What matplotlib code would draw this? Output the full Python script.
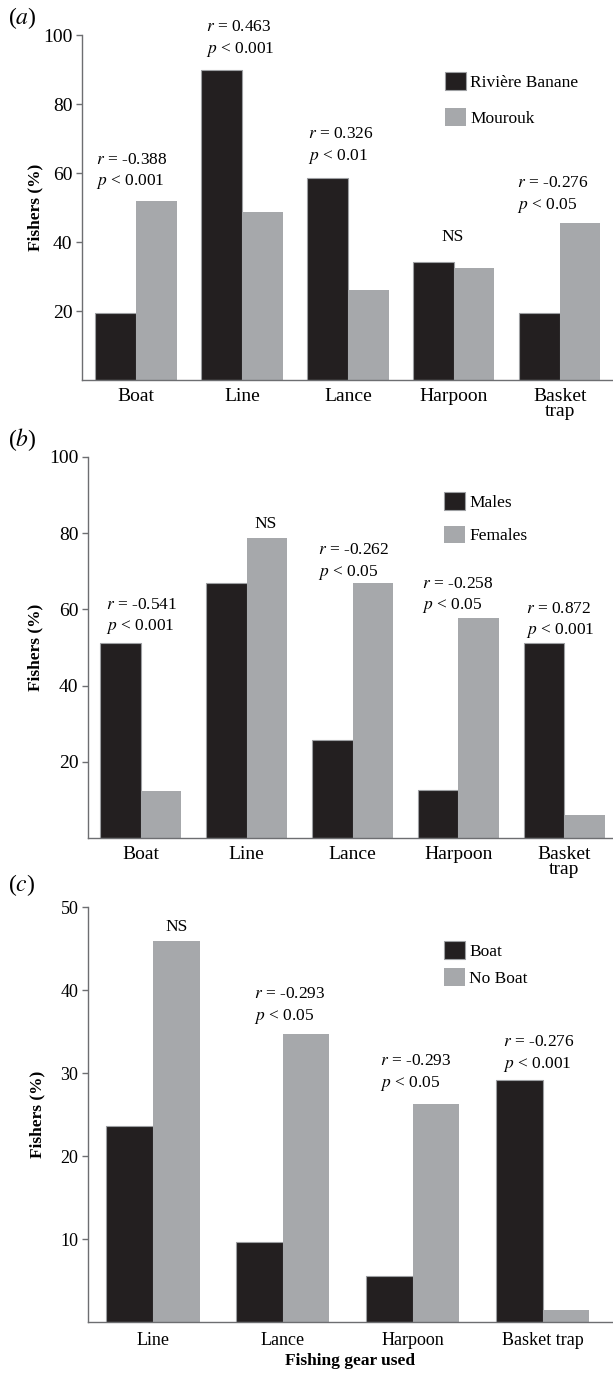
import numpy as np
import matplotlib.pyplot as plt
from matplotlib.patches import Patch

plt.rcParams['font.family'] = 'Liberation Serif'
plt.rcParams['mathtext.fontset'] = 'stix'

# (a) site
gear_a = ['Boat', 'Line', 'Lance', 'Harpoon', 'Basket\ntrap']
riviere = [19.5, 90.0, 58.5, 34.3, 19.5]
mourouk = [51.8, 48.7, 26.0, 32.4, 45.4]
stats_a = ['$r$ = -0.388\n$p$ < 0.001', '$r$ = 0.463\n$p$ < 0.001',
           '$r$ = 0.326\n$p$ < 0.01', 'NS', '$r$ = -0.276\n$p$ < 0.05']

# (b) gender
gear_b = ['Boat', 'Line', 'Lance', 'Harpoon', 'Basket\ntrap']
males = [51.2, 66.8, 25.6, 12.7, 51.2]
females = [12.2, 78.8, 66.8, 57.6, 5.9]
stats_b = ['$r$ = -0.541\n$p$ < 0.001', 'NS', '$r$ = -0.262\n$p$ < 0.05',
           '$r$ = -0.258\n$p$ < 0.05', '$r$ = 0.872\n$p$ < 0.001']

# (c) boat ownership
gear_c = ['Line', 'Lance', 'Harpoon', 'Basket trap']
boat = [23.6, 9.7, 5.5, 29.2]
no_boat = [45.9, 34.7, 26.3, 1.4]
stats_c = ['NS', '$r$ = -0.293\n$p$ < 0.05', '$r$ = -0.293\n$p$ < 0.05',
           '$r$ = -0.276\n$p$ < 0.001']

DARK = '#231f20'
GREY = '#a6a8ab'
EDGE = '#9d9fa2'
AXC = '#6d6e71'

fig = plt.figure(figsize=(6.13, 13.73), dpi=100)


def panel(rect, cats, s1, s2, names, notes, note_xy, ticks, ymax, w,
          xlim, leg_anchor, leg_sp, ylab_x, tick_fs, pad):
    ax = fig.add_axes(rect)
    x = np.arange(len(cats))
    ax.bar(x - w / 2, s1, w, color=DARK, edgecolor=EDGE, linewidth=0.8)
    ax.bar(x + w / 2, s2, w, color=GREY, linewidth=0)
    ax.set_xlim(*xlim)
    ax.set_ylim(0, ymax)
    ax.set_yticks(ticks)
    ax.set_xticks(x)
    ax.set_xticklabels(cats, linespacing=0.8)
    ax.tick_params(axis='x', length=0, pad=pad, labelsize=tick_fs)
    ax.tick_params(axis='y', length=4, width=1, color=AXC, pad=3, labelsize=tick_fs)
    for s in ['top', 'right']:
        ax.spines[s].set_visible(False)
    for s in ['left', 'bottom']:
        ax.spines[s].set_color(AXC)
        ax.spines[s].set_linewidth(1)
    ax.set_ylabel('Fishers (%)', fontsize=12.5, fontweight='bold')
    ax.yaxis.set_label_coords(ylab_x, 0.5)
    for txt, (tx, ty) in zip(notes, note_xy):
        ha = 'center' if txt == 'NS' else 'left'
        ax.text(tx, ty, txt, ha=ha, va='center', fontsize=12.5,
                linespacing=1.35, clip_on=False)
    handles = [Patch(facecolor=DARK, edgecolor=EDGE, linewidth=0.8),
               Patch(facecolor=GREY)]
    ax.legend(handles, names, loc='upper left', bbox_to_anchor=leg_anchor,
              frameon=False, borderpad=0, borderaxespad=0, handlelength=1.2,
              handleheight=1.2, handletextpad=0.25, labelspacing=leg_sp,
              fontsize=12.5)
    return ax


panel([0.1338, 0.7232, 0.8642, 0.2513], gear_a, riviere, mourouk,
      ['Rivière Banane', 'Mourouk'], stats_a,
      [(-0.38, 60.5), (0.66, 98.8), (1.62, 67.8), (2.99, 41.6), (3.6, 53.7)],
      [20, 40, 60, 80, 100], 100, 0.383, (-0.51, 4.49), (0.685, 0.893), 1.0,
      -0.0736, 14, 6)

panel([0.1436, 0.3897, 0.8544, 0.2775], gear_b, males, females,
      ['Males', 'Females'], stats_b,
      [(-0.33, 58.1), (1.18, 82.4), (1.67, 72.4), (2.66, 63.6), (3.64, 57.1)],
      [20, 40, 60, 80, 100], 100, 0.383, (-0.5, 4.45), (0.68, 0.908), 0.85,
      -0.0857, 14, 6)

ax_c = panel([0.1436, 0.0371, 0.8544, 0.3023], gear_c, boat, no_boat,
             ['Boat', 'No Boat'], stats_c,
             [(0.18, 47.6), (0.78, 38.1), (1.75, 30.0), (2.69, 32.3)],
             [10, 20, 30, 40, 50], 50, 0.358, (-0.5, 3.53), (0.68, 0.918), 0.5,
             -0.082, 13, 7)
ax_c.set_xlabel('Fishing gear used', fontsize=12.5, fontweight='bold', labelpad=3)

for lab, y in [('a', 18), ('b', 440), ('c', 885)]:
    fig.text(8 / 613, 1 - y / 1373, '($' + lab + '$)', fontsize=17,
             va='center', ha='left')

fig.savefig('out.png', dpi=100)
